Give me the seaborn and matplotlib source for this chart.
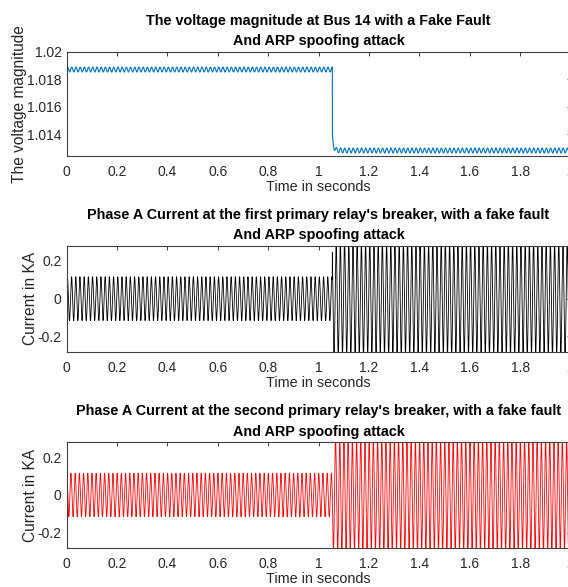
import numpy as np
import pandas as pd
import matplotlib
matplotlib.use("Agg")
import matplotlib.pyplot as plt
import seaborn as sns

# ---- data ----
x_limits = [0, 2]
x_ticks = [0, 0.2, 0.4, 0.6, 0.8, 1, 1.2, 1.4, 1.6, 1.8, 2]
x_tick_labels = ["0", "0.2", "0.4", "0.6", "0.8", "1", "1.2", "1.4", "1.6", "1.8", "2"]
fault_time = 1.055          # seconds
system_freq = 60.0          # Hz
voltage_levels = [1.0187, 1.0128]      # pre / post fault mean
voltage_ripple = [0.00018, 0.00018]    # ripple half-amplitude
voltage_step_start = 1.0138            # value right after the drop
voltage_ylim = [1.0124, 1.02]
voltage_yticks = [1.014, 1.016, 1.018, 1.02]
voltage_ytick_labels = ["1.014", "1.016", "1.018", "1.02"]
current1_amp = [0.116, 0.30]           # KA, pre / post
current2_amp = [0.116, 0.30]
current_ylim = [-0.282, 0.28]
current_yticks = [-0.2, 0, 0.2]
current_ytick_labels = ["-0.2", "0", "0.2"]

titles = [
    "The voltage magnitude at Bus 14 with a Fake Fault\nAnd ARP spoofing attack",
    "Phase A Current at the first primary relay's breaker, with a fake fault\nAnd ARP spoofing attack",
    "Phase A Current at the second primary relay's breaker, with a fake fault\nAnd ARP spoofing attack",
]
ylabels = ["The voltage magnitude", "Current in KA", "Current in KA"]
xlabel = "Time in seconds"
colors = ["#0072BD", "#000000", "#FF0000"]

# ---- build waveforms from the read parameters ----
t = np.linspace(0, 2.0, 8001)
post = t >= fault_time
w = 2 * np.pi * system_freq

v_base = np.where(post,
                  voltage_levels[1] + (voltage_step_start - voltage_levels[1]) * np.exp(-(t - fault_time) / 0.005),
                  voltage_levels[0])
v_amp = np.where(post, voltage_ripple[1], voltage_ripple[0])
voltage = v_base + v_amp * np.sin(w * t)

i1 = np.where(post, current1_amp[1], current1_amp[0]) * np.sin(w * t + 0.3)
i2 = np.where(post, current2_amp[1], current2_amp[0]) * np.sin(w * t + 1.2)

df = pd.DataFrame({"t": t, "voltage": voltage, "i1": i1, "i2": i2})

# ---- style ----
sns.set_style("white")
plt.rcParams["font.family"] = ["Liberation Sans", "DejaVu Sans"]
edge = "#404040"
text_c = "#262626"

W, H = 568, 587
fig = plt.figure(figsize=(W / 100, H / 100), dpi=100)

# axes boxes in pixels: (left, right, top, bottom)
boxes = [(66.5, 570.5, 51.7, 156.0),
         (66.5, 570.5, 245.7, 352.0),
         (66.5, 570.5, 442.3, 548.0)]

ycols = ["voltage", "i1", "i2"]
for k, (l, r, tp, b) in enumerate(boxes):
    ax = fig.add_axes([l / W, (H - b) / H, (r - l) / W, (b - tp) / H])
    sns.lineplot(data=df, x="t", y=ycols[k], ax=ax, color=colors[k],
                 linewidth=0.6 if k else 0.8, estimator=None, errorbar=None)
    ax.set_xlim(*x_limits)
    ax.set_xticks(x_ticks)
    ax.set_xticklabels(x_tick_labels)
    if k == 0:
        ax.set_ylim(*voltage_ylim)
        ax.set_yticks(voltage_yticks)
        ax.set_yticklabels(voltage_ytick_labels)
    else:
        ax.set_ylim(*current_ylim)
        ax.set_yticks(current_yticks)
        ax.set_yticklabels(current_ytick_labels)
    for s in ax.spines.values():
        s.set_visible(True)
        s.set_color(edge)
        s.set_linewidth(0.8)
    ax.tick_params(direction="in", length=3, width=0.7, color=edge,
                   top=True, right=True, labelsize=10, labelcolor=text_c)
    ax.tick_params(axis="x", pad=6.5)
    ax.tick_params(axis="y", pad=3.5)
    ax.set_xlabel(xlabel, fontsize=10.4, color=text_c, labelpad=0.5)
    ax.set_ylabel(ylabels[k], fontsize=11.2, color=text_c, labelpad=0)
    ax.set_title(titles[k], fontsize=10.4, fontweight="bold", color="#000000",
                 pad=4.7, linespacing=1.6)
    ax.set_facecolor("white")

fig.savefig("out.png", dpi=100)
